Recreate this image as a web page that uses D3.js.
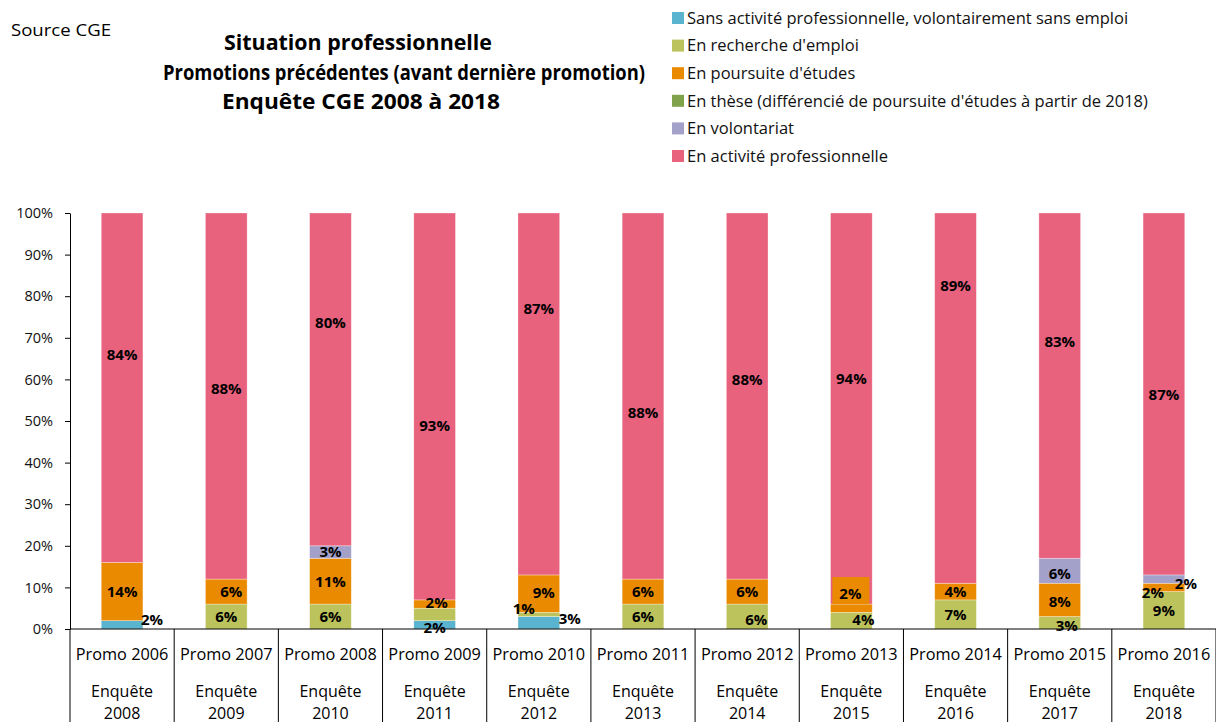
<!DOCTYPE html>
<html>
<head>
<meta charset="utf-8">
<script src="https://cdn.jsdelivr.net/npm/d3@7/dist/d3.min.js"></script>
<style>
  html, body { margin: 0; padding: 0; background: #fff; }
  svg { display: block; font-family: "Open Sans", "Noto Sans", sans-serif; }
</style>
</head>
<body>
<svg id="chart" width="1216" height="722"></svg>
<script>
// ---- Data ----
const categories = ["Promo 2006", "Promo 2007", "Promo 2008", "Promo 2009", "Promo 2010", "Promo 2011",
                    "Promo 2012", "Promo 2013", "Promo 2014", "Promo 2015", "Promo 2016"];
const surveyYears = ["2008", "2009", "2010", "2011", "2012", "2013", "2014", "2015", "2016", "2017", "2018"];
const seriesNames = [
  "Sans activité professionnelle, volontairement sans emploi",
  "En recherche d'emploi",
  "En poursuite d'études",
  "En thèse (différencié de poursuite d'études à partir de 2018)",
  "En volontariat",
  "En activité professionnelle"
];
const sansActivite    = [2, 0, 0, 2, 3, 0, 0, 0, 0, 0, 0];
const rechercheEmploi = [0, 6, 6, 3, 1, 6, 6, 4, 7, 3, 9];
const poursuiteEtudes = [14, 6, 11, 2, 9, 6, 6, 2, 4, 8, 2];
const enThese         = [0, 0, 0, 0, 0, 0, 0, 0, 0, 0, 0];
const volontariat     = [0, 0, 3, 0, 0, 0, 0, 0, 0, 6, 2];
const activitePro     = [84, 88, 80, 93, 87, 88, 88, 94, 89, 83, 87];
const yTicks = [0, 10, 20, 30, 40, 50, 60, 70, 80, 90, 100];

// ---- Style ----
const colors = ["#5bb4cf", "#bdc35c", "#ea8a00", "#7fa24a", "#a3a0ca", "#e8617d"];
const seriesValues = [sansActivite, rechercheEmploi, poursuiteEtudes, enThese, volontariat, activitePro];

// manual label placements (as in the source chart): dx in px, "at" = value position on the axis
const labelTweaks = {
  "0-0": {dx: 30, at: 2.3}, "0-5": {at: 65.9},
  "1-2": {dx: 5, at: 8.9}, "1-5": {at: 57.9},
  "2-5": {at: 73.6},
  "3-0": {at: 0.4}, "3-1": {hide: true}, "3-2": {dx: 2, at: 6.4}, "3-5": {at: 48.8},
  "4-0": {dx: 31, at: 2.6}, "4-1": {dx: -15, at: 4.8}, "4-2": {dx: 5, at: 8.8}, "4-5": {at: 76.9},
  "5-5": {at: 51.9},
  "6-1": {dx: 9, at: 2.2}, "6-5": {at: 59.9},
  "7-1": {dx: 12, at: 2.3}, "7-2": {dx: -1, at: 8.4, bg: true}, "7-5": {at: 60.3},
  "8-5": {at: 82.5},
  "9-1": {dx: 7, at: 0.8}, "9-2": {at: 6.6}, "9-4": {at: 13.4}, "9-5": {at: 69},
  "10-2": {dx: -11, at: 8.8}, "10-4": {dx: 22, at: 10.8}, "10-5": {at: 56.3}
};

const svg = d3.select("#chart");
const plotLeft = 70, plotRight = 1216, plotTop = 213, plotBottom = 629;

const x = d3.scaleBand().domain(categories).range([plotLeft, plotRight]).paddingInner(0.6).paddingOuter(0.3);
const y = d3.scaleLinear().domain([0, 100]).range([plotBottom, plotTop]);

const table = categories.map((c, i) => {
  const row = {cat: c, idx: i};
  seriesNames.forEach((s, k) => row[s] = seriesValues[k][i]);
  return row;
});
const stacked = d3.stack().keys(seriesNames)(table);

// bars
const gBars = svg.append("g");
stacked.forEach((layer, k) => {
  gBars.selectAll(null).data(layer).enter().append("rect")
    .attr("x", d => x(d.data.cat))
    .attr("width", x.bandwidth())
    .attr("y", d => y(d[1]))
    .attr("height", d => Math.max(0, y(d[0]) - y(d[1])))
    .attr("fill", colors[k])
    .attr("stroke", "rgba(255,255,255,0.45)")
    .attr("stroke-width", 0.7);
});

// y axis
const yAxis = d3.axisLeft(y).tickValues(yTicks).tickFormat(d => d + "%").tickSize(5).tickSizeOuter(0);
const gy = svg.append("g").attr("transform", `translate(${plotLeft},0)`).call(yAxis);
gy.select(".domain").attr("stroke", "#000").attr("stroke-width", 1);
gy.selectAll(".tick line").attr("stroke", "#000");
gy.selectAll(".tick text").attr("font-size", 14.5).attr("fill", "#111").attr("x", -17)
  .attr("font-family", "Open Sans, sans-serif");

// x axis (multi-level categories)
svg.append("line").attr("x1", plotLeft).attr("x2", plotRight).attr("y1", plotBottom).attr("y2", plotBottom)
  .attr("stroke", "#000").attr("stroke-width", 1);
const step = x.step();
const bnds = categories.map(c => x(c) + x.bandwidth() / 2 - step / 2)
  .concat([x(categories[categories.length - 1]) + x.bandwidth() / 2 + step / 2]);
svg.append("g").selectAll("line").data(bnds).enter().append("line")
  .attr("x1", d => d).attr("x2", d => d).attr("y1", plotBottom).attr("y2", 722)
  .attr("stroke", "#000").attr("stroke-width", 1);
const gx = svg.append("g");
categories.forEach((c, i) => {
  const cx = x(c) + x.bandwidth() / 2;
  gx.append("text").attr("x", cx).attr("y", 660).attr("text-anchor", "middle")
    .attr("font-size", 16.3).text(c);
  gx.append("text").attr("x", cx).attr("y", 697).attr("text-anchor", "middle")
    .attr("font-size", 16).text("Enquête");
  gx.append("text").attr("x", cx).attr("y", 719).attr("text-anchor", "middle")
    .attr("font-size", 16).text(surveyYears[i]);
});

// data labels
const gLab = svg.append("g");
stacked.forEach((layer, k) => {
  layer.forEach((d, i) => {
    const v = d[1] - d[0];
    if (v <= 0) return;
    const t = labelTweaks[`${i}-${k}`] || {};
    if (t.hide) return;
    const cx = x(d.data.cat) + x.bandwidth() / 2 + (t.dx || 0);
    const cy = y(t.at !== undefined ? t.at : (d[0] + d[1]) / 2);
    if (t.bg) {
      gLab.append("rect").attr("x", cx - 18).attr("y", cy - 17).attr("width", 37).attr("height", 27)
        .attr("fill", colors[k]);
    }
    gLab.append("text").attr("x", cx).attr("y", cy).attr("dy", "0.36em")
      .attr("text-anchor", "middle").attr("font-size", 15).attr("font-weight", "bold")
      .attr("fill", "#000").text(v + "%");
  });
});

// title & source
svg.append("text").attr("x", 11).attr("y", 36).attr("font-size", 17)
  .attr("textLength", 100).attr("lengthAdjust", "spacingAndGlyphs").text("Source CGE");
const titleLines = [
  {t: "Situation professionnelle", x: 224, y: 50, w: 268},
  {t: "Promotions précédentes (avant dernière promotion)", x: 163, y: 80, w: 482},
  {t: "Enquête CGE 2008 à 2018", x: 222, y: 109, w: 278}
];
svg.append("g").selectAll("text").data(titleLines).enter().append("text")
  .attr("x", d => d.x).attr("y", d => d.y)
  .attr("font-size", 20.5).attr("font-weight", "bold")
  .attr("textLength", d => d.w).attr("lengthAdjust", "spacingAndGlyphs")
  .text(d => d.t);

// legend
const gLeg = svg.append("g");
seriesNames.forEach((s, k) => {
  const cy = 18 + k * 27.6;
  gLeg.append("rect").attr("x", 672).attr("y", cy - 6).attr("width", 12).attr("height", 12).attr("fill", colors[k]);
  gLeg.append("text").attr("x", 687).attr("y", cy).attr("dy", "0.35em").attr("font-size", 16.5).attr("fill", "#111").text(s);
});
</script>
</body>
</html>
